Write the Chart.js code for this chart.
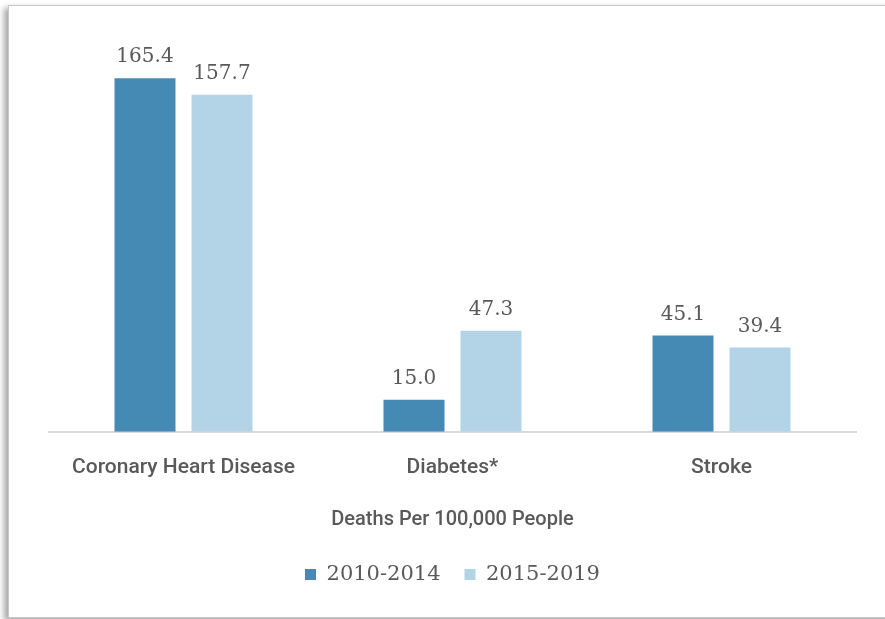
<!DOCTYPE html>
<html>
<head>
<meta charset="utf-8">
<script src="https://cdn.jsdelivr.net/npm/chart.js@4"></script>
<style>
  html, body { margin: 0; padding: 0; background: #fff; }
  #frame {
    position: absolute; left: 8px; top: 5px; width: 885px; height: 611px;
    border: 1px solid #c8c8c8; box-shadow: -4px 3px 6px rgba(0,0,0,0.35);
    background: #fff;
  }
  #wrap { position: absolute; left: 0; top: 0; width: 877px; height: 611px; }
</style>
</head>
<body>
<div id="frame"><div id="wrap"><canvas id="chart"></canvas></div></div>
<script>
const categories = ["Coronary Heart Disease", "Diabetes*", "Stroke"];
const seriesNames = ["2010-2014", "2015-2019"];
const values2010 = [165.4, 15.0, 45.1];
const values2015 = [157.7, 47.3, 39.4];

const textColor = "#595959";

// skriver värdet ovanför varje stapel
const valueLabels = {
  id: "valueLabels",
  afterDatasetsDraw(chart) {
    const ctx = chart.ctx;
    ctx.save();
    ctx.font = "20px 'DejaVu Serif'";
    ctx.fillStyle = textColor;
    ctx.textAlign = "center";
    ctx.textBaseline = "bottom";
    chart.data.datasets.forEach((ds, i) => {
      chart.getDatasetMeta(i).data.forEach((bar, j) => {
        ctx.fillText(ds.data[j].toFixed(1), bar.x, bar.y - 11);
      });
    });
    ctx.restore();
  }
};

new Chart(document.getElementById("chart"), {
  type: "bar",
  data: {
    labels: categories,
    datasets: [
      { label: seriesNames[0], data: values2010, backgroundColor: "#448ab5" },
      { label: seriesNames[1], data: values2015, backgroundColor: "#b3d4e6" }
    ]
  },
  options: {
    responsive: true,
    maintainAspectRatio: false,
    animation: false,
    categoryPercentage: 0.5725,
    barPercentage: 0.792,
    layout: { padding: { left: 40, right: 30, top: 41, bottom: 22 } },
    plugins: {
      tooltip: { enabled: false },
      legend: {
        position: "bottom",
        labels: {
          boxWidth: 11, boxHeight: 11, padding: 24,
          color: textColor,
          font: { family: "'DejaVu Serif'", size: 21 }
        }
      }
    },
    scales: {
      y: { display: false, min: 0, max: 180 },
      x: {
        grid: { display: false, drawTicks: false },
        border: { display: true, color: "#d9d9d9", width: 2 },
        ticks: {
          color: textColor, padding: 23,
          font: { family: "'Roboto'", size: 21, weight: "500" }
        },
        title: {
          display: true, text: "Deaths Per 100,000 People",
          color: textColor,
          font: { family: "'Roboto'", size: 20, weight: "500" },
          padding: { top: 5, bottom: 8 }
        }
      }
    }
  },
  plugins: [valueLabels]
});
</script>
</body>
</html>
